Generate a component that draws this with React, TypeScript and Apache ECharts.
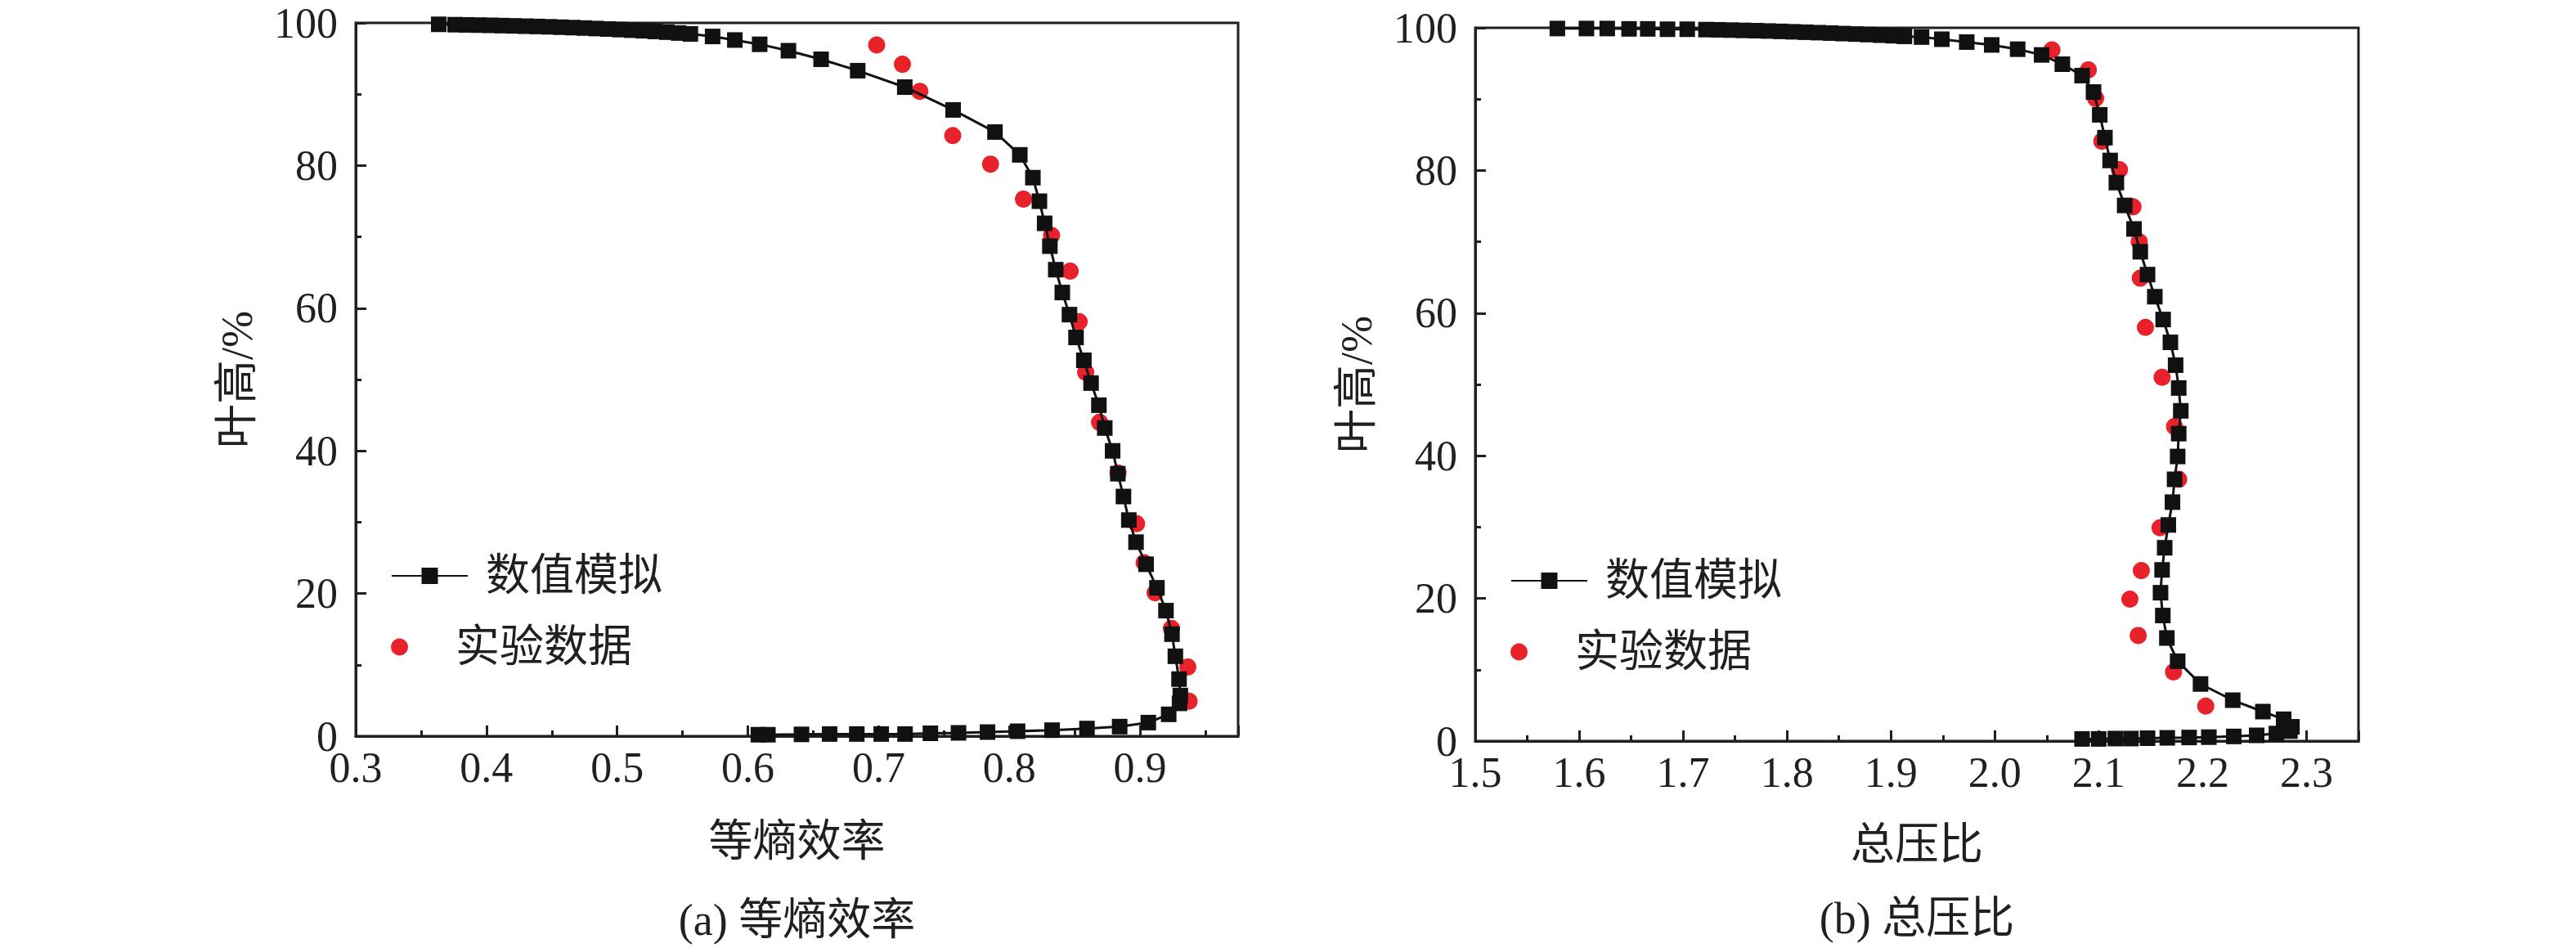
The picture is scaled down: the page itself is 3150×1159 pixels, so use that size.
import * as echarts from "echarts";
import { useEffect, useRef } from "react";

// (a) isentropic efficiency vs blade height
const effSimulated: [number, number][] = [
  [0.3635, 99.8], [0.376, 99.75], [0.385, 99.72], [0.394, 99.69], [0.403, 99.66],
  [0.412, 99.62], [0.421, 99.58], [0.43, 99.54], [0.439, 99.5], [0.448, 99.45],
  [0.457, 99.4], [0.466, 99.34], [0.475, 99.28], [0.484, 99.21], [0.493, 99.14],
  [0.502, 99.06], [0.511, 98.98], [0.52, 98.9], [0.529, 98.8], [0.538, 98.7],
  [0.547, 98.58], [0.556, 98.45], [0.573, 98.1], [0.59, 97.6], [0.609, 97.0],
  [0.631, 96.1], [0.656, 94.9], [0.684, 93.3], [0.72, 91.0], [0.757, 87.8],
  [0.789, 84.7], [0.808, 81.5], [0.818, 78.3], [0.823, 75.0], [0.827, 71.9],
  [0.831, 68.7], [0.8355, 65.4], [0.8405, 62.2], [0.846, 59.1], [0.851, 55.9],
  [0.857, 52.7], [0.8625, 49.5], [0.8685, 46.4], [0.873, 43.2], [0.879, 40.0],
  [0.883, 36.8], [0.8873, 33.6], [0.8914, 30.3], [0.8969, 27.2], [0.9046, 24.1],
  [0.9129, 20.8], [0.9198, 17.6], [0.9244, 14.3], [0.927, 11.2], [0.9298, 8.0],
  [0.9308, 5.7], [0.9302, 4.6], [0.9219, 3.06], [0.9063, 1.9], [0.8844, 1.34],
  [0.8594, 1.07], [0.8327, 0.84], [0.8063, 0.69], [0.7833, 0.57], [0.7611, 0.46],
  [0.7396, 0.4], [0.7202, 0.3], [0.702, 0.3], [0.6833, 0.3], [0.6625, 0.3],
  [0.641, 0.25], [0.6153, 0.2], [0.608, 0.2],
];
const effExperiment: [number, number][] = [
  [0.6985, 96.9], [0.7182, 94.2], [0.7315, 90.4], [0.7567, 84.2], [0.7856, 80.2],
  [0.8108, 75.3], [0.8323, 70.2], [0.8465, 65.2], [0.8534, 58.1], [0.8584, 51.0],
  [0.869, 44.0], [0.8831, 36.9], [0.8973, 29.8], [0.9031, 24.3], [0.9115, 20.1],
  [0.924, 15.1], [0.9365, 9.7], [0.9375, 4.9],
];

// (b) total pressure ratio vs blade height
const prSimulated: [number, number][] = [
  [1.579, 99.9], [1.607, 99.9], [1.627, 99.9], [1.648, 99.85], [1.666, 99.85],
  [1.685, 99.8], [1.704, 99.8], [1.722, 99.75], [1.734, 99.72], [1.746, 99.68],
  [1.758, 99.64], [1.77, 99.6], [1.782, 99.55], [1.794, 99.5], [1.806, 99.44],
  [1.818, 99.38], [1.83, 99.32], [1.842, 99.26], [1.854, 99.19], [1.866, 99.12],
  [1.878, 99.05], [1.89, 98.97], [1.902, 98.89], [1.913, 98.8], [1.9295, 98.7],
  [1.949, 98.4], [1.973, 98.0], [1.997, 97.6], [2.022, 97.0], [2.045, 96.2],
  [2.065, 94.9], [2.084, 93.3], [2.095, 91.0], [2.101, 87.8], [2.106, 84.6],
  [2.111, 81.4], [2.117, 78.3], [2.125, 75.1], [2.134, 71.8], [2.14, 68.6],
  [2.147, 65.4], [2.154, 62.3], [2.162, 59.1], [2.169, 55.9], [2.174, 52.7],
  [2.177, 49.5], [2.179, 46.3], [2.177, 43.1], [2.176, 39.9], [2.173, 36.7],
  [2.171, 33.5], [2.167, 30.3], [2.1635, 27.1], [2.161, 24.0], [2.1595, 20.8],
  [2.1617, 17.6], [2.1656, 14.45], [2.176, 11.2], [2.198, 8.0], [2.229, 5.73],
  [2.258, 4.13], [2.278, 3.06], [2.286, 2.0], [2.284, 1.4], [2.271, 1.05],
  [2.252, 0.8], [2.23, 0.65], [2.206, 0.55], [2.187, 0.5], [2.166, 0.45],
  [2.147, 0.4], [2.131, 0.35], [2.116, 0.35], [2.1, 0.3], [2.084, 0.3],
];
const prExperiment: [number, number][] = [
  [2.055, 96.9], [2.09, 94.1], [2.097, 90.1], [2.103, 84.1], [2.12, 80.1],
  [2.133, 74.9], [2.139, 70.0], [2.14, 64.9], [2.145, 58.0], [2.161, 51.0],
  [2.173, 44.1], [2.177, 36.7], [2.159, 29.9], [2.141, 23.9], [2.13, 19.9],
  [2.138, 14.8], [2.172, 9.7], [2.203, 4.9],
];

const seriesNames = ["数值模拟", "实验数据"];
const xNames = ["等熵效率", "总压比"];
const captions = ["(a) 等熵效率", "(b) 总压比"];
const yName = "叶高/%";
const xRanges: [number, number][] = [
  [0.3, 0.975],
  [1.5, 2.35],
];

const FONT = "'Liberation Serif', 'Times New Roman', 'Noto Sans CJK SC', serif";
const INK = "#231f20";
const RED = "#e8222b";
const MARK = "#111111";

// one-decimal labels only on the 0.1 grid (hides the extent tick at max)
const tenthLabel = (v: number) =>
  Math.abs(v * 10 - Math.round(v * 10)) < 1e-6 ? v.toFixed(1) : "";

const grids = [
  { left: 435, top: 28, width: 1079, height: 872 },
  { left: 1804, top: 34, width: 1080, height: 872 },
];

function xAxesFor(i: number) {
  const [min, max] = xRanges[i];
  return [
    {
      type: "value",
      gridIndex: i,
      position: "bottom",
      min,
      max,
      interval: 0.1,
      name: xNames[i],
      nameLocation: "middle",
      nameGap: i === 0 ? 102 : 100,
      nameTextStyle: { fontSize: 54, fontFamily: FONT, color: INK },
      axisLine: { show: true, onZero: false, lineStyle: { color: INK, width: 3 } },
      axisTick: { inside: true, length: 13, lineStyle: { color: INK, width: 3 } },
      axisLabel: { margin: 12, fontSize: 52, fontFamily: FONT, color: INK, formatter: tenthLabel },
      splitLine: { show: false },
    },
    {
      type: "value",
      gridIndex: i,
      position: "bottom",
      min,
      max,
      interval: 0.05,
      axisLine: { show: false, onZero: false },
      axisTick: { inside: true, length: 7, lineStyle: { color: INK, width: 3 } },
      axisLabel: { show: false },
      splitLine: { show: false },
    },
  ];
}

function yAxesFor(i: number) {
  return [
    {
      type: "value",
      gridIndex: i,
      position: "left",
      min: 0,
      max: 100,
      interval: 20,
      name: yName,
      nameLocation: "middle",
      nameGap: 118,
      nameTextStyle: { fontSize: 54, fontFamily: FONT, color: INK },
      axisLine: { show: true, onZero: false, lineStyle: { color: INK, width: 3 } },
      axisTick: { inside: true, length: 13, lineStyle: { color: INK, width: 3 } },
      axisLabel: { margin: 22, fontSize: 52, lineHeight: 24, fontFamily: FONT, color: INK },
      splitLine: { show: false },
    },
    {
      type: "value",
      gridIndex: i,
      position: "left",
      min: 0,
      max: 100,
      interval: 10,
      axisLine: { show: false, onZero: false },
      axisTick: { inside: true, length: 7, lineStyle: { color: INK, width: 3 } },
      axisLabel: { show: false },
      splitLine: { show: false },
    },
  ];
}

function legendFor(name: string, left: number, top: number, itemHeight: number) {
  return {
    data: [name],
    left,
    top,
    orient: "vertical",
    padding: 0,
    itemWidth: 93,
    itemHeight,
    selectedMode: false,
    textStyle: { fontSize: 54, fontFamily: FONT, color: INK, padding: [0, 0, 0, 17] },
  };
}

function seriesFor(i: number, sim: [number, number][], exp: [number, number][]) {
  return [
    {
      type: "scatter",
      name: seriesNames[1],
      xAxisIndex: i * 2,
      yAxisIndex: i * 2,
      data: exp,
      symbol: "circle",
      symbolSize: 21,
      itemStyle: { color: RED, opacity: 1 },
      z: 2,
    },
    {
      type: "line",
      name: seriesNames[0],
      xAxisIndex: i * 2,
      yAxisIndex: i * 2,
      data: sim,
      symbol: "rect",
      symbolSize: 19,
      showAllSymbol: true,
      itemStyle: { color: MARK, opacity: 1 },
      lineStyle: { color: MARK, width: 3 },
      z: 3,
    },
  ];
}

export default function App() {
  const chartRef = useRef<HTMLDivElement | null>(null);

  useEffect(() => {
    const el = chartRef.current;
    if (!el) return;

    const chart = echarts.init(el, undefined, { renderer: "svg" });

    const option = {
      animation: false,
      backgroundColor: "#ffffff",
      title: captions.map((text, i) => ({
        text,
        left: grids[i].left + grids[i].width / 2,
        top: i === 0 ? 1098 : 1096,
        textAlign: "center",
        padding: 0,
        textStyle: { fontSize: 54, fontWeight: "normal", fontFamily: FONT, color: INK },
      })),
      grid: grids.map((g) => ({
        ...g,
        show: true,
        borderColor: INK,
        borderWidth: 3,
        backgroundColor: "transparent",
      })),
      legend: [
        legendFor(seriesNames[0], 478, 677, 25),
        legendFor(seriesNames[1], 478, 764, 21),
        legendFor(seriesNames[0], 1847, 683, 25),
        legendFor(seriesNames[1], 1847, 770, 21),
      ],
      xAxis: [...xAxesFor(0), ...xAxesFor(1)],
      yAxis: [...yAxesFor(0), ...yAxesFor(1)],
      series: [
        ...seriesFor(0, effSimulated, effExperiment),
        ...seriesFor(1, prSimulated, prExperiment),
      ],
    };

    chart.setOption(option as echarts.EChartsOption);

    return () => {
      if (!chart.isDisposed()) chart.dispose();
    };
  }, []);

  return (
    <div
      ref={chartRef}
      style={{ position: "absolute", left: 0, top: 0, width: 3150, height: 1159 }}
    />
  );
}
